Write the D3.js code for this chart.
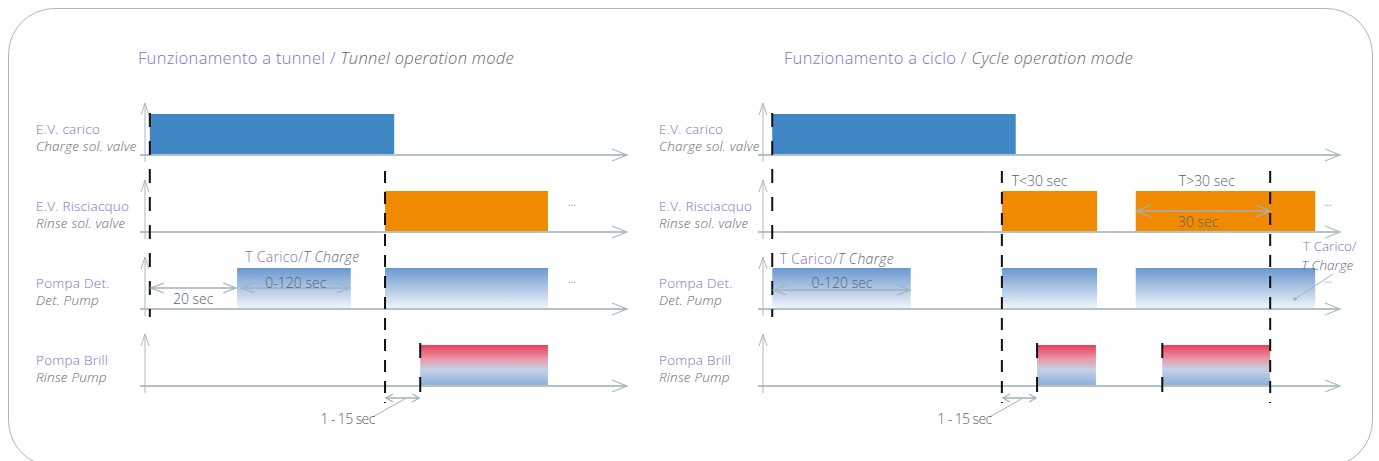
<!DOCTYPE html>
<html>
<head>
<meta charset="utf-8">
<script src="https://cdn.jsdelivr.net/npm/d3@7"></script>
<style>
  body { margin: 0; background: #fff; }
  text { font-family: "Open Sans", Lato, sans-serif; font-weight: 300; }
</style>
</head>
<body>
<script>
// row labels
var rowNames   = ["E.V. carico", "E.V. Risciacquo", "Pompa Det.", "Pompa Brill"];
var rowNamesEn = ["Charge sol. valve", "Rinse sol. valve", "Det. Pump", "Rinse Pump"];

// time positions (0-100 along each axis), [start, end]
var tunnelCarico      = [[1.0, 51.7]];
var tunnelRisciacquo  = [[49.8, 83.6]];
var tunnelPompaDet    = [[19.1, 42.7], [49.8, 83.6]];
var tunnelPompaBrill  = [[57.1, 83.6]];
var tunnelMarkers     = [1.0, 49.8];
var tunnelShort       = [57.1];

var cicloCarico       = [[1.6, 43.8]];
var cicloRisciacquo   = [[41.4, 57.9], [64.6, 95.7]];
var cicloPompaDet     = [[1.6, 25.6], [41.4, 57.9], [64.6, 95.7]];
var cicloPompaBrill   = [[47.5, 57.7], [69.2, 87.9]];
var cicloMarkers      = [1.6, 41.4, 87.9];
var cicloShort        = [47.5, 69.2];

var purple = "#7f70bc", grey = "#5f6974", axisCol = "#b3c2c8", annCol = "#a3b2b9", numCol = "#56626e";

var svg = d3.select("body").append("svg").attr("width", 1379).attr("height", 461);

var defs = svg.append("defs");
var g1 = defs.append("linearGradient").attr("id", "detGrad").attr("x1", 0).attr("y1", 0).attr("x2", 0).attr("y2", 1);
g1.append("stop").attr("offset", 0).attr("stop-color", "#6a98cf");
g1.append("stop").attr("offset", 1).attr("stop-color", "#f3f6fb");
var g2 = defs.append("linearGradient").attr("id", "brillGrad").attr("x1", 0).attr("y1", 0).attr("x2", 0).attr("y2", 1);
g2.append("stop").attr("offset", 0).attr("stop-color", "#e8405a");
g2.append("stop").attr("offset", 0.35).attr("stop-color", "#e99aa9");
g2.append("stop").attr("offset", 0.6).attr("stop-color", "#c3d2e8");
g2.append("stop").attr("offset", 1).attr("stop-color", "#8cadd9");

// frame
svg.append("rect").attr("x", 8.5).attr("y", 8.5).attr("width", 1364).attr("height", 458)
  .attr("rx", 46).attr("fill", "none").attr("stroke", "#a7b6bd").attr("stroke-width", 1);

var yRow = d3.scalePoint().domain([0, 1, 2, 3]).range([155, 386]);
var barH = 41;

function chevron(g, x, y, dir, len, half, col, w) {
  var p;
  if (dir == "right") p = "M" + (x - len) + "," + (y - half) + "L" + x + "," + y + "L" + (x - len) + "," + (y + half);
  else if (dir == "left") p = "M" + (x + len) + "," + (y - half) + "L" + x + "," + y + "L" + (x + len) + "," + (y + half);
  else p = "M" + (x - half) + "," + (y + len) + "L" + x + "," + y + "L" + (x + half) + "," + (y + len);
  g.append("path").attr("d", p).attr("fill", "none").attr("stroke", col).attr("stroke-width", w || 1);
}

function dblArrow(g, xa, xb, y, len, half) {
  g.append("line").attr("x1", xa).attr("x2", xb).attr("y1", y).attr("y2", y)
    .attr("stroke", annCol).attr("stroke-width", 1.3);
  chevron(g, xa, y, "left", len, half, annCol, 1.3);
  chevron(g, xb, y, "right", len, half, annCol, 1.3);
}

function label2(g, x, y, a, b, anchor) {
  var t = g.append("text").attr("x", x).attr("y", y).attr("font-size", 14)
    .attr("dominant-baseline", "middle").attr("text-anchor", anchor || "start");
  t.append("tspan").attr("fill", purple).text(a);
  if (b) t.append("tspan").attr("fill", grey).attr("font-style", "italic").text(b);
  return t;
}

function numText(g, x, y, s, anchor) {
  return g.append("text").attr("x", x).attr("y", y).attr("font-size", 14)
    .attr("text-anchor", anchor || "middle").attr("dominant-baseline", "middle")
    .attr("fill", numCol).text(s);
}

function panel(opt) {
  var g = svg.append("g");
  var x = d3.scaleLinear().domain([0, 100]).range([opt.x0, opt.x1]);

  g.append("text").attr("x", opt.titleX).attr("y", 60).attr("font-size", 16.5)
    .attr("letter-spacing", 0.3)
    .attr("dominant-baseline", "middle")
    .call(function (t) {
      t.append("tspan").attr("fill", purple).text(opt.title + " / ");
      t.append("tspan").attr("fill", grey).attr("font-style", "italic").text(opt.titleEn);
    });

  // row labels
  rowNames.forEach(function (n, i) {
    g.append("text").attr("x", opt.labelX).attr("y", yRow(i) - 25).attr("font-size", 13.5)
      .attr("letter-spacing", 0.25)
      .attr("dominant-baseline", "middle").attr("fill", purple).text(n);
    g.append("text").attr("x", opt.labelX).attr("y", yRow(i) - 8).attr("font-size", 13.5)
      .attr("letter-spacing", 0.2)
      .attr("dominant-baseline", "middle").attr("fill", grey).attr("font-style", "italic").text(rowNamesEn[i]);
  });

  // bars
  var fills = ["#4187c3", "#f08a00", "url(#detGrad)", "url(#brillGrad)"];
  opt.bars.forEach(function (segs, i) {
    g.append("g").selectAll("rect").data(segs).enter().append("rect")
      .attr("x", function (d) { return x(d[0]); })
      .attr("width", function (d) { return x(d[1]) - x(d[0]); })
      .attr("y", yRow(i) - barH)
      .attr("height", barH)
      .attr("fill", fills[i]);
  });

  // axes
  [0, 1, 2, 3].forEach(function (i) {
    var yb = yRow(i);
    g.append("line").attr("x1", opt.x0 - 5).attr("x2", opt.x1).attr("y1", yb).attr("y2", yb)
      .attr("stroke", axisCol).attr("stroke-width", 2.2);
    chevron(g, opt.x1, yb, "right", 15, 6, "#a9b9c0", 1.2);
    g.append("line").attr("x1", opt.x0).attr("x2", opt.x0).attr("y1", yb - 52).attr("y2", yb + 7)
      .attr("stroke", "#a9b9c0").attr("stroke-width", 1);
    chevron(g, opt.x0, yb - 52, "up", 12, 4, "#a9b9c0", 1);
  });

  // ellipsis
  [1, 2].forEach(function (i) {
    g.append("text").attr("x", x(opt.dots)).attr("y", yRow(i) - 26).attr("font-size", 10)
      .attr("fill", "#8e99a2").attr("text-anchor", "middle").style("font-weight", 400).text("...");
  });

  // dashed markers
  var dash = "12,9";
  g.append("line").attr("x1", x(opt.markers[0])).attr("x2", x(opt.markers[0]))
    .attr("y1", yRow(0) - barH - 1).attr("y2", yRow(2) + 8)
    .attr("stroke", "#111").attr("stroke-width", 2).attr("stroke-dasharray", "14,14");
  opt.markers.slice(1).forEach(function (m) {
    g.append("line").attr("x1", x(m)).attr("x2", x(m))
      .attr("y1", yRow(1) - barH - 20).attr("y2", yRow(3) + 17)
      .attr("stroke", "#111").attr("stroke-width", 2).attr("stroke-dasharray", dash);
  });
  opt.short.forEach(function (m) {
    g.append("line").attr("x1", x(m)).attr("x2", x(m))
      .attr("y1", yRow(3) - barH - 2).attr("y2", yRow(3) + 6)
      .attr("stroke", "#111").attr("stroke-width", 2).attr("stroke-dasharray", "15,19");
  });

  // 1 - 15 sec
  var m1 = opt.markers[1], s1 = opt.short[0];
  dblArrow(g, x(m1) + 1, x(s1) - 1, 398, 7, 4);
  var mid = (x(m1) + x(s1)) / 2;
  g.append("line").attr("x1", mid + 2).attr("y1", 399).attr("x2", mid - 30).attr("y2", 417)
    .attr("stroke", annCol).attr("stroke-width", 1);
  numText(g, mid - 55, 420, "1 - 15 sec").attr("letter-spacing", -0.6);

  return x;
}

var xT = panel({
  x0: 145, x1: 627, titleX: 138, labelX: 36,
  title: "Funzionamento a tunnel", titleEn: "Tunnel operation mode",
  bars: [tunnelCarico, tunnelRisciacquo, tunnelPompaDet, tunnelPompaBrill],
  markers: tunnelMarkers, short: tunnelShort, dots: 88.6
});

var xC = panel({
  x0: 763, x1: 1340, titleX: 784, labelX: 659,
  title: "Funzionamento a ciclo", titleEn: "Cycle operation mode",
  bars: [cicloCarico, cicloRisciacquo, cicloPompaDet, cicloPompaBrill],
  markers: cicloMarkers, short: cicloShort, dots: 97.9
});

var ann = svg.append("g");

// tunnel annotations
label2(ann, xT(20.8), 258, "T Carico/", "T Charge").attr("letter-spacing", 0.3);
dblArrow(ann, xT(tunnelMarkers[0]) + 1, xT(tunnelPompaDet[0][0]) - 1, 288, 13, 5);
dblArrow(ann, xT(20.0), xT(42.5), 288, 13, 5);
numText(ann, xT(31.3), 284, "0-120 sec");
numText(ann, xT(10), 300, "20 sec");

// ciclo annotations
numText(ann, xC(43.1), 182, "T<30 sec", "start");
numText(ann, xC(76.9), 182, "T>30 sec");
dblArrow(ann, xC(cicloRisciacquo[1][0]) + 1, xC(cicloMarkers[2]), 211, 14, 6);
numText(ann, xC(75.4), 223, "30 sec");

label2(ann, xC(2.9), 260, "T Carico/", "T Charge").attr("letter-spacing", 0.3);
dblArrow(ann, xC(1.8), xC(25.5), 290, 13, 5);
numText(ann, xC(13.7), 284, "0-120 sec");

label2(ann, xC(93.6), 247, "T Carico/", null).attr("font-size", 13.5);
ann.append("text").attr("x", xC(93.3)).attr("y", 266).attr("font-size", 13.5)
  .attr("dominant-baseline", "middle").attr("fill", grey).attr("font-style", "italic").text("T Charge");
ann.append("line").attr("x1", xC(98.8)).attr("y1", 274).attr("x2", xC(92.2)).attr("y2", 299)
  .attr("stroke", annCol).attr("stroke-width", 1);
ann.append("circle").attr("cx", xC(92.2)).attr("cy", 299).attr("r", 1.8).attr("fill", annCol);
</script>
</body>
</html>
